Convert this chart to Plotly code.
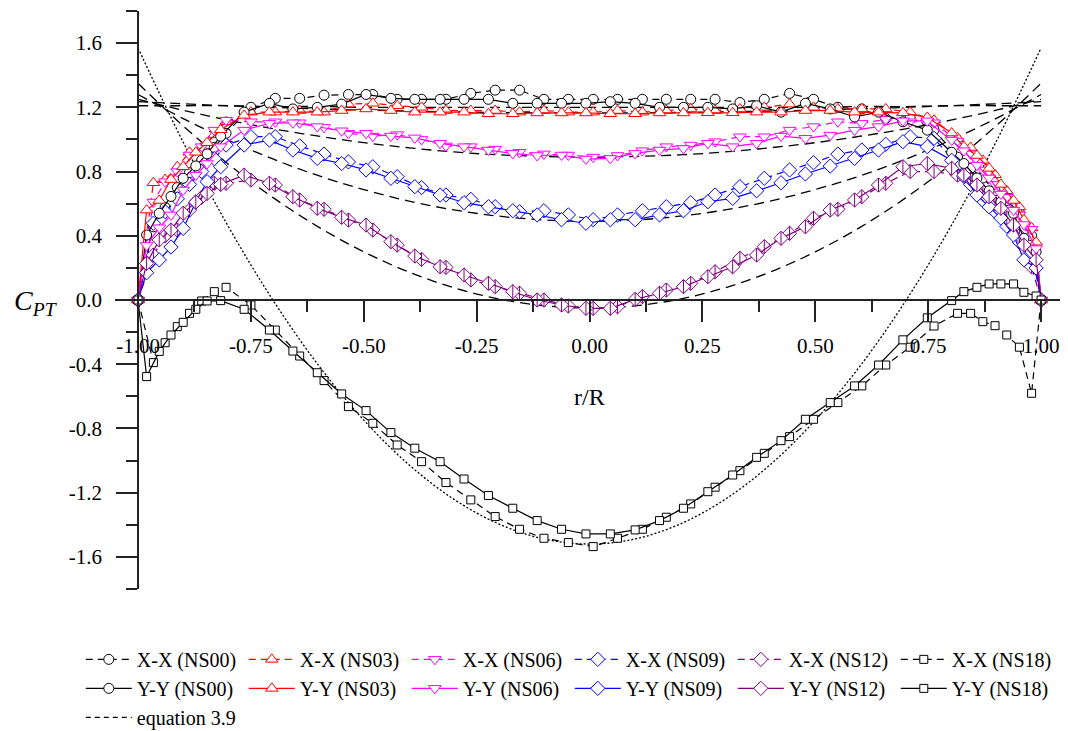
import plotly.graph_objects as go

# ---------------- data ----------------
# measurement stations r/R for Y-Y traverses (solid) and X-X traverses (dashed)
x_yy = [-1.0, -0.981, -0.953, -0.927, -0.900, -0.872, -0.847, -0.817, -0.765, -0.709,
        -0.657, -0.603, -0.549, -0.495, -0.440, -0.387, -0.331, -0.278, -0.224, -0.170,
        -0.116, -0.062, -0.008, 0.046, 0.101, 0.155, 0.208, 0.262, 0.317, 0.370,
        0.424, 0.478, 0.533, 0.587, 0.640, 0.694, 0.748, 0.802, 0.829, 0.858,
        0.885, 0.911, 0.939, 0.962, 0.989, 1.0]
x_xx = [-1.0, -0.966, -0.940, -0.913, -0.886, -0.859, -0.831, -0.805, -0.750, -0.696,
        -0.642, -0.588, -0.534, -0.480, -0.426, -0.372, -0.318, -0.263, -0.209, -0.155,
        -0.101, -0.047, 0.008, 0.062, 0.117, 0.170, 0.224, 0.278, 0.333, 0.387,
        0.443, 0.496, 0.550, 0.603, 0.656, 0.710, 0.763, 0.815, 0.844, 0.871,
        0.898, 0.924, 0.952, 0.979, 1.0]

xx_ns00 = [0, 0.456, 0.577, 0.70, 0.793, 0.87, 0.95, 1.038, 1.20, 1.256, 1.256, 1.276, 1.28, 1.28,
           1.25, 1.25, 1.25, 1.287, 1.307, 1.307, 1.25, 1.25, 1.25, 1.25, 1.25, 1.25, 1.25, 1.25,
           1.23, 1.25, 1.287, 1.25, 1.20, 1.19, 1.13, 1.137, 1.06, 0.89, 0.82, 0.76, 0.68, 0.62,
           0.543, 0.40, 0]
xx_ns03 = [0, 0.73, 0.75, 0.83, 0.92, 0.95, 1.03, 1.11, 1.17, 1.17, 1.18, 1.17, 1.22, 1.225,
           1.21, 1.20, 1.18, 1.18, 1.18, 1.17, 1.18, 1.17, 1.17, 1.18, 1.17, 1.18, 1.19, 1.18,
           1.19, 1.20, 1.22, 1.20, 1.19, 1.19, 1.19, 1.17, 1.12, 1.01, 0.95, 0.87, 0.78, 0.68,
           0.58, 0.45, 0]
xx_ns06 = [0, 0.61, 0.737, 0.80, 0.903, 0.955, 1.058, 1.12, 1.11, 1.11, 1.104, 1.075, 1.038, 1.021,
           1.03, 1.0, 0.96, 0.955, 0.94, 0.92, 0.91, 0.903, 0.89, 0.90, 0.93, 0.955, 0.965, 0.986,
           1.017, 1.017, 1.058, 1.08, 1.11, 1.10, 1.125, 1.11, 1.104, 0.99, 0.91, 0.81, 0.72, 0.64,
           0.53, 0.44, 0]
xx_ns09 = [0, 0.478, 0.55, 0.63, 0.72, 0.80, 0.88, 0.965, 1.017, 1.017, 0.96, 0.909, 0.86, 0.83,
           0.768, 0.70, 0.654, 0.627, 0.581, 0.55, 0.556, 0.53, 0.50, 0.53, 0.556, 0.581, 0.606,
           0.654, 0.706, 0.758, 0.81, 0.855, 0.909, 0.934, 0.97, 1.017, 1.007, 0.84, 0.72, 0.62,
           0.55, 0.46, 0.36, 0.30, 0]
xx_ns12 = [0, 0.28, 0.40, 0.436, 0.56, 0.64, 0.727, 0.727, 0.747, 0.716, 0.623, 0.565, 0.498, 0.436,
           0.342, 0.253, 0.203, 0.125, 0.083, 0.042, 0.0, -0.037, -0.052, -0.042, 0.021, 0.062,
           0.104, 0.176, 0.26, 0.332, 0.415, 0.509, 0.565, 0.643, 0.727, 0.80, 0.80, 0.778, 0.75,
           0.68, 0.60, 0.51, 0.40, 0.207, 0]
xx_ns18 = [0, -0.39, -0.266, -0.166, -0.083, -0.006, 0.052, 0.079, -0.031, -0.187, -0.349, -0.502,
           -0.664, -0.768, -0.903, -1.007, -1.137, -1.245, -1.349, -1.428, -1.484, -1.511, -1.536,
           -1.484, -1.428, -1.353, -1.27, -1.166, -1.063, -0.955, -0.851, -0.743, -0.639, -0.535,
           -0.405, -0.294, -0.162, -0.083, -0.083, -0.135, -0.16, -0.218, -0.294, -0.581, 0]

yy_ns00 = [0, 0.405, 0.54, 0.645, 0.758, 0.835, 0.91, 1.02, 1.17, 1.225, 1.19, 1.20, 1.22, 1.28,
           1.256, 1.25, 1.25, 1.25, 1.25, 1.225, 1.225, 1.225, 1.225, 1.235, 1.225, 1.20, 1.20,
           1.20, 1.19, 1.21, 1.17, 1.225, 1.19, 1.14, 1.17, 1.11, 1.058, 0.92, 0.85, 0.76, 0.68,
           0.61, 0.54, 0.384, 0.30, 0]
yy_ns03 = [0, 0.56, 0.62, 0.75, 0.83, 0.92, 0.98, 1.06, 1.15, 1.17, 1.17, 1.17, 1.18, 1.19, 1.18,
           1.17, 1.17, 1.17, 1.16, 1.16, 1.165, 1.165, 1.165, 1.16, 1.16, 1.165, 1.165, 1.166,
           1.166, 1.17, 1.17, 1.18, 1.18, 1.17, 1.17, 1.166, 1.137, 1.04, 0.955, 0.90, 0.82, 0.72,
           0.62, 0.50, 0.36, 0]
yy_ns06 = [0, 0.34, 0.45, 0.53, 0.685, 0.778, 0.85, 0.955, 1.058, 1.10, 1.104, 1.08, 1.054, 1.038,
           1.021, 1.01, 0.976, 0.955, 0.934, 0.913, 0.90, 0.903, 0.878, 0.882, 0.913, 0.934, 0.944,
           0.976, 0.955, 0.976, 1.021, 1.007, 1.027, 1.058, 1.08, 1.116, 1.116, 0.996, 0.93, 0.84,
           0.76, 0.66, 0.56, 0.47, 0.32, 0]
yy_ns09 = [0, 0.17, 0.25, 0.33, 0.446, 0.61, 0.737, 0.83, 0.965, 0.996, 0.934, 0.882, 0.85, 0.81,
           0.758, 0.706, 0.654, 0.606, 0.581, 0.556, 0.53, 0.50, 0.478, 0.50, 0.50, 0.53, 0.556,
           0.612, 0.633, 0.68, 0.73, 0.785, 0.834, 0.882, 0.934, 0.986, 0.955, 0.87, 0.77, 0.654,
           0.58, 0.51, 0.405, 0.25, 0.20, 0]
yy_ns12 = [0, 0.228, 0.374, 0.436, 0.54, 0.61, 0.664, 0.72, 0.778, 0.727, 0.643, 0.571, 0.515,
           0.467, 0.363, 0.274, 0.207, 0.156, 0.104, 0.052, 0.0, -0.031, -0.052, -0.052, 0.004,
           0.042, 0.083, 0.145, 0.207, 0.28, 0.384, 0.456, 0.56, 0.623, 0.716, 0.83, 0.85, 0.82,
           0.778, 0.716, 0.643, 0.571, 0.467, 0.342, 0.25, 0]
yy_ns18 = [0, -0.477, -0.32, -0.218, -0.139, -0.058, -0.006, -0.004, -0.058, -0.187, -0.318, -0.453,
           -0.585, -0.689, -0.826, -0.923, -1.007, -1.115, -1.218, -1.297, -1.374, -1.428, -1.457,
           -1.457, -1.432, -1.374, -1.297, -1.194, -1.09, -0.98, -0.876, -0.743, -0.639, -0.535,
           -0.405, -0.248, -0.111, -0.004, 0.052, 0.079, 0.10, 0.10, 0.10, 0.048, 0.025, 0]

# equation 3.9 curves, read at r/R = -1.0 ... 1.0 step 0.1
x_eq = [-1.0, -0.9, -0.8, -0.7, -0.6, -0.5, -0.4, -0.3, -0.2, -0.1, 0.0,
        0.1, 0.2, 0.3, 0.4, 0.5, 0.6, 0.7, 0.8, 0.9, 1.0]
eq_ns00 = [1.21, 1.21, 1.21, 1.205, 1.205, 1.20, 1.20, 1.20, 1.20, 1.20, 1.20,
           1.20, 1.20, 1.20, 1.20, 1.20, 1.205, 1.205, 1.21, 1.21, 1.21]
eq_ns03 = [1.235, 1.222, 1.21, 1.2, 1.19, 1.183, 1.177, 1.172, 1.168, 1.166, 1.165,
           1.166, 1.168, 1.172, 1.177, 1.183, 1.19, 1.2, 1.21, 1.222, 1.235]
eq_ns06 = [1.25, 1.182, 1.12, 1.066, 1.02, 0.98, 0.948, 0.922, 0.904, 0.894, 0.89,
           0.894, 0.904, 0.922, 0.948, 0.98, 1.02, 1.066, 1.12, 1.182, 1.25]
eq_ns09 = [1.28, 1.13, 0.996, 0.877, 0.774, 0.688, 0.616, 0.561, 0.522, 0.498, 0.49,
           0.498, 0.522, 0.561, 0.616, 0.688, 0.774, 0.877, 0.996, 1.13, 1.28]
eq_ns12 = [1.35, 1.084, 0.846, 0.636, 0.454, 0.30, 0.174, 0.076, 0.006, -0.036, -0.05,
           -0.036, 0.006, 0.076, 0.174, 0.30, 0.454, 0.636, 0.846, 1.084, 1.35]
eq_ns18 = [1.57, 0.983, 0.458, -0.006, -0.408, -0.748, -1.026, -1.242, -1.396, -1.489, -1.52,
           -1.489, -1.396, -1.242, -1.026, -0.748, -0.408, -0.006, 0.458, 0.983, 1.57]

# tick labels (hyphen minus as in the reference)
x_tickvals = [-1.0, -0.75, -0.5, -0.25, 0.0, 0.25, 0.5, 0.75, 1.0]
x_ticktext = ["-1.00", "-0.75", "-0.50", "-0.25", "0.00", "0.25", "0.50", "0.75", "1.00"]
x_minorvals = [-0.875, -0.625, -0.375, -0.125, 0.125, 0.375, 0.625, 0.875]
y_tickvals = [-1.6, -1.2, -0.8, -0.4, 0.0, 0.4, 0.8, 1.2, 1.6]
y_ticktext = ["-1.6", "-1.2", "-0.8", "-0.4", "0.0", "0.4", "0.8", "1.2", "1.6"]
y_minorvals = [-1.8, -1.4, -1.0, -0.6, -0.2, 0.2, 0.6, 1.0, 1.4, 1.8]

cases = ["NS00", "NS03", "NS06", "NS09", "NS12", "NS18"]
xx_series = [xx_ns00, xx_ns03, xx_ns06, xx_ns09, xx_ns12, xx_ns18]
yy_series = [yy_ns00, yy_ns03, yy_ns06, yy_ns09, yy_ns12, yy_ns18]
eq_series = [eq_ns00, eq_ns03, eq_ns06, eq_ns09, eq_ns12, eq_ns18]

colors = ["#000000", "#FF0000", "#FF00FF", "#0000FF", "#800080", "#000000"]
symbols = ["circle", "triangle-up", "triangle-down", "diamond", "diamond", "square"]
msizes = [10, 11, 11, 11, 11, 8]

FONT = "Liberation Serif"

fig = go.Figure()

# theory curves (drawn first, underneath)
for i, ys in enumerate(eq_series):
    fig.add_trace(go.Scatter(
        x=x_eq, y=ys, mode="lines", showlegend=False, hoverinfo="skip",
        line=dict(color="black", width=1.3, shape="spline",
                  dash="2px,2px" if cases[i] == "NS18" else "10px,6px")))

# measured profiles
for k, (label, xs, series, dash) in enumerate([
        ("X-X", x_xx, xx_series, "7px,5px"),
        ("Y-Y", x_yy, yy_series, "solid")]):
    for i, ys in enumerate(series):
        fig.add_trace(go.Scatter(
            x=xs, y=ys, mode="lines+markers", name=f"{label} ({cases[i]})",
            legendrank=100 + k * 10 + i,
            line=dict(color=colors[i], width=1.2, dash=dash),
            marker=dict(symbol=symbols[i], size=msizes[i], color="white",
                        line=dict(color=colors[i], width=1))))
        if cases[i] == "NS12":
            fig.add_trace(go.Scatter(
                x=xs, y=ys, mode="markers", showlegend=False, hoverinfo="skip",
                marker=dict(symbol="line-ns", size=10,
                            line=dict(color=colors[i], width=1))))

# legend entry for the theory
fig.add_trace(go.Scatter(
    x=[None], y=[None], mode="lines", name="equation 3.9", legendrank=200,
    line=dict(color="black", width=1.2, dash="5px,4px")))

axis_common = dict(showline=True, linecolor="#222", linewidth=1.5, ticks="outside",
                   ticklen=21, tickwidth=1.5, tickcolor="#222", showgrid=False,
                   zeroline=False, automargin=False, tickmode="array",
                   tickfont=dict(family=FONT, size=21, color="black"))
minor_common = dict(ticklen=11, tickwidth=1.5, tickcolor="#222", ticks="outside",
                    showgrid=False, tickmode="array")

# the page body adds an 8 px offset; margins compensate so the plot area
# lands at x 115..1065, y 11..589 of the window
fig.update_layout(
    width=1068, height=731,
    margin=dict(l=107, r=11, t=3, b=150, autoexpand=False),
    paper_bgcolor="white", plot_bgcolor="white",
    font=dict(family=FONT, size=20, color="black"),
    xaxis=dict(range=[-1.051, 1.053], anchor="free", position=0.5,
               tickvals=x_tickvals, ticktext=x_ticktext, ticklabelstandoff=6,
               minor=dict(tickvals=x_minorvals, **minor_common),
               **axis_common),
    yaxis=dict(range=[-1.8, 1.8], anchor="free", position=0.0242,
               tickvals=y_tickvals, ticktext=y_ticktext, ticklabelstandoff=10,
               minor=dict(tickvals=y_minorvals, **minor_common),
               **axis_common),
    legend=dict(orientation="h", x=-0.036, xanchor="left", y=-0.088, yanchor="top",
                font=dict(family=FONT, size=20, color="black"),
                entrywidth=102, entrywidthmode="pixels", itemwidth=46,
                traceorder="normal", bgcolor="rgba(0,0,0,0)"),
    annotations=[
        dict(text="r/R", xref="x", x=0, yref="paper", y=0.332, showarrow=False,
             font=dict(family=FONT, size=24, color="black"), xanchor="center", yanchor="middle"),
        dict(text="<i>C</i><sub><i>PT</i></sub>", xref="paper", x=-0.083, yref="paper", y=0.495,
             showarrow=False, font=dict(family=FONT, size=28, color="black"),
             xanchor="center", yanchor="middle"),
    ],
)

fig.write_html("out.html")
